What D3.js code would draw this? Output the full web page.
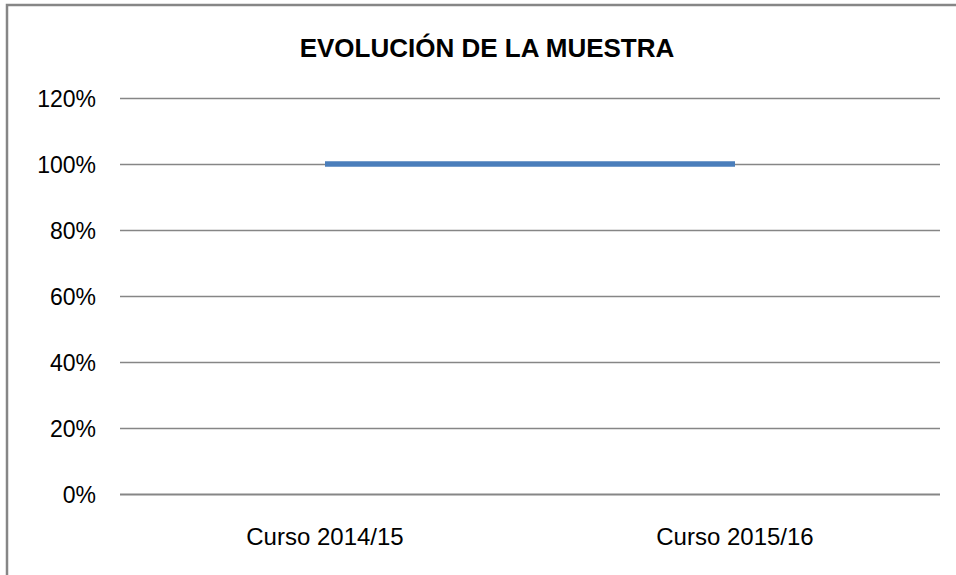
<!DOCTYPE html>
<html>
<head>
<meta charset="utf-8">
<script src="https://cdn.jsdelivr.net/npm/d3@7"></script>
<style>
  body { margin: 0; background: #fff; }
  svg { display: block; }
  text { font-family: "Liberation Sans", Arial, sans-serif; fill: #000; }
</style>
</head>
<body>
<div id="container"></div>
<script>
const categories = ['Curso 2014/15', 'Curso 2015/16'];
const values = [1.0, 1.0];
const yTicks = [0, 0.2, 0.4, 0.6, 0.8, 1.0, 1.2];
const title = 'EVOLUCIÓN DE LA MUESTRA';

const width = 956;
const height = 575;
const margin = {top: 98, right: 16, bottom: 81, left: 120};

const svg = d3.select('#container').append('svg')
  .attr('width', width)
  .attr('height', height);

// chart frame (cropped on right and bottom in the original)
svg.append('rect')
  .attr('x', 7)
  .attr('y', 5)
  .attr('width', width + 20)
  .attr('height', height + 20)
  .attr('fill', 'none')
  .attr('stroke', '#868686')
  .attr('stroke-width', 2.5);

const x = d3.scalePoint()
  .domain(categories)
  .range([margin.left, width - margin.right])
  .padding(0.5);

const y = d3.scaleLinear()
  .domain([0, 1.2])
  .range([height - margin.bottom, margin.top]);

// gridlines
svg.append('g')
  .selectAll('line')
  .data(yTicks)
  .enter()
  .append('line')
  .attr('x1', margin.left)
  .attr('x2', width - margin.right)
  .attr('y1', d => Math.round(y(d)) + 0.5)
  .attr('y2', d => Math.round(y(d)) + 0.5)
  .attr('stroke', '#868686')
  .attr('stroke-width', d => d === 0 ? 2 : 1.3);

// y tick labels
svg.append('g')
  .selectAll('text')
  .data(yTicks)
  .enter()
  .append('text')
  .attr('x', 96)
  .attr('y', d => y(d) + 8.5)
  .attr('text-anchor', 'end')
  .style('font-size', '23px')
  .text(d3.format('.0%'));

// category labels
svg.append('g')
  .selectAll('text')
  .data(categories)
  .enter()
  .append('text')
  .attr('x', d => x(d))
  .attr('y', 545)
  .attr('text-anchor', 'middle')
  .style('font-size', '24px')
  .text(d => d);

// series line
const line = d3.line()
  .x((d, i) => x(categories[i]))
  .y(d => y(d));

svg.append('path')
  .datum(values)
  .attr('d', line)
  .attr('fill', 'none')
  .attr('stroke', '#4a7ebb')
  .attr('stroke-width', 5.5);

// title
svg.append('text')
  .attr('x', 487)
  .attr('y', 57)
  .attr('text-anchor', 'middle')
  .style('font-size', '26px')
  .style('font-weight', 'bold')
  .text(title);
</script>
</body>
</html>
